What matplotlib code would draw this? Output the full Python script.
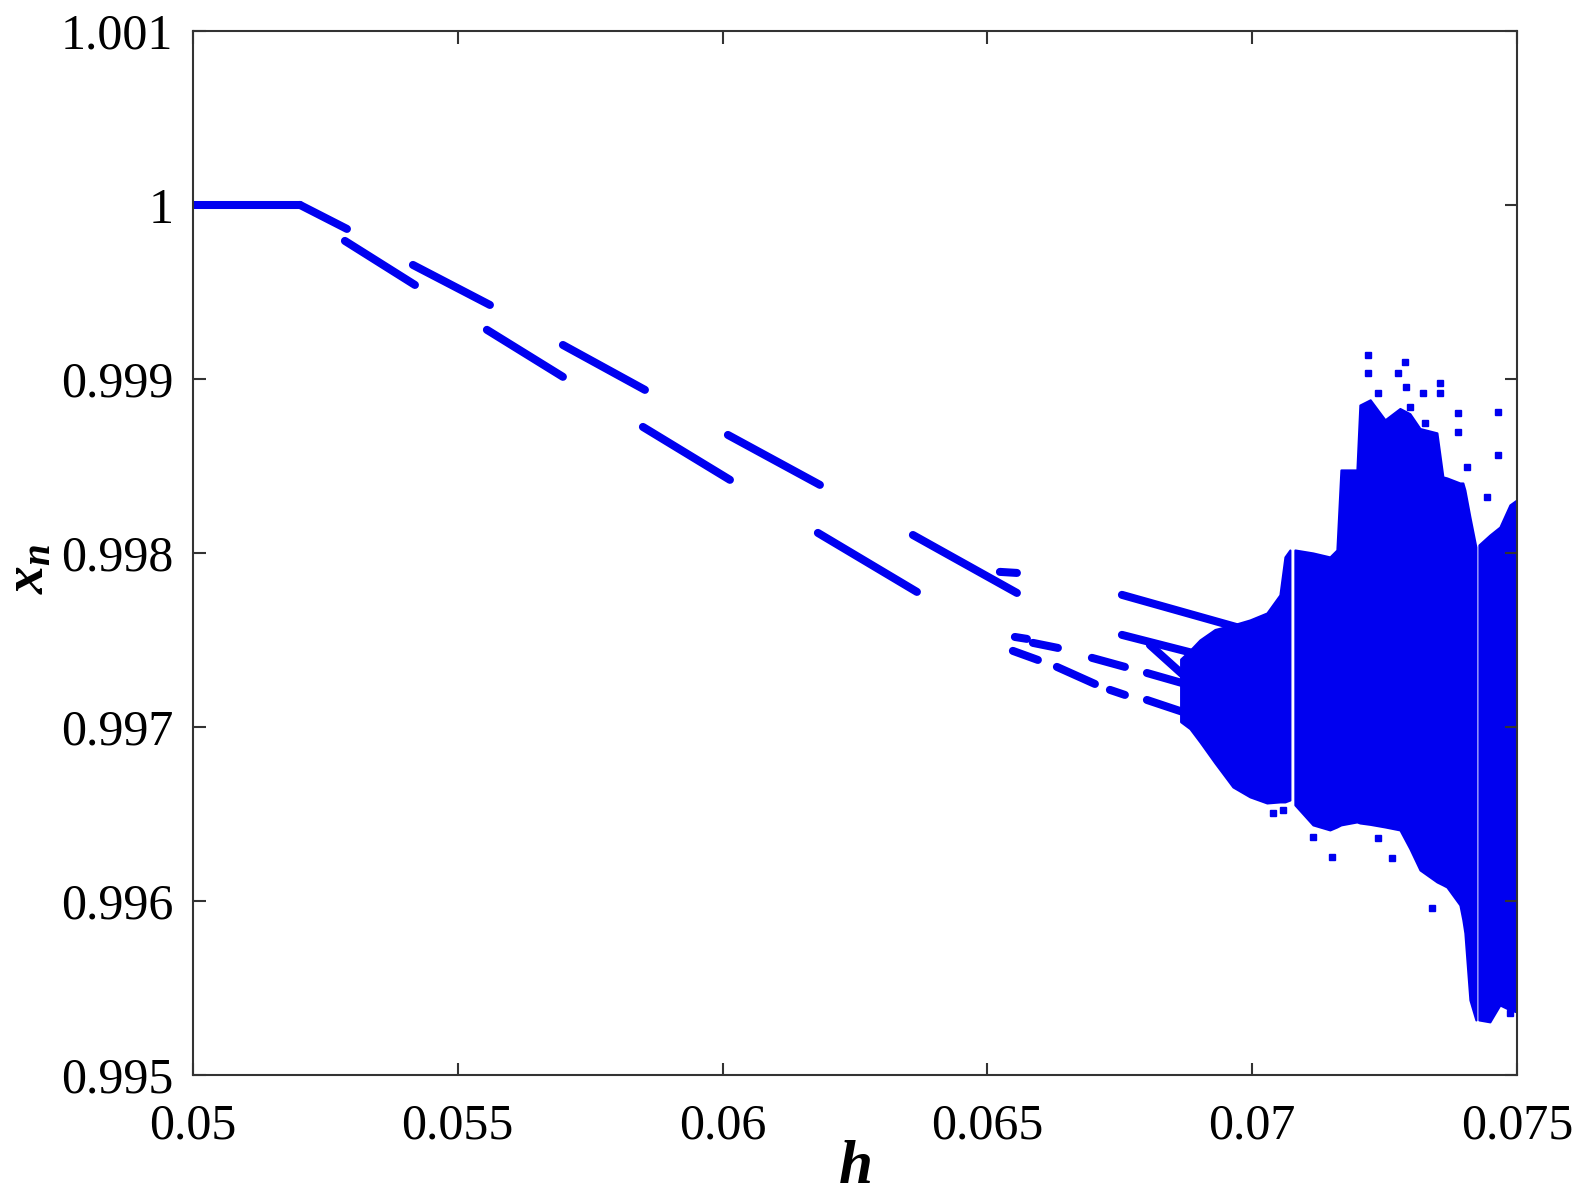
import matplotlib.pyplot as plt
import numpy as np

plt.rcParams['font.family'] = ['Liberation Serif', 'DejaVu Serif']
plt.rcParams['mathtext.fontset'] = 'custom'
plt.rcParams['mathtext.rm'] = 'Liberation Serif'
plt.rcParams['mathtext.it'] = 'Liberation Serif:italic:bold'

# period-1 / period-2 pieces before the cascade: start h, end h, start x, end x
seg_h0 = [0.05, 0.052020, 0.052870, 0.054154, 0.055551, 0.056986, 0.058497, 0.060102, 0.061801, 0.063595, 0.065238]
seg_h1 = [0.052020, 0.052908, 0.054192, 0.055608, 0.056986, 0.058535, 0.060140, 0.061839, 0.063671, 0.065559, 0.065559]
seg_x0 = [1.0, 1.0, 0.999793, 0.999655, 0.999282, 0.999195, 0.998724, 0.998678, 0.998115, 0.998103, 0.997891]
seg_x1 = [1.0, 0.999862, 0.999540, 0.999425, 0.999012, 0.998937, 0.998420, 0.998391, 0.997776, 0.997770, 0.997885]

# short period-4/8 dashes and the branches running into chaos
dash_h0 = [0.065521, 0.065861, 0.065483, 0.066314, 0.066975, 0.067315,
           0.067542, 0.067542, 0.068070, 0.068014, 0.068014]
dash_h1 = [0.065748, 0.066333, 0.065955, 0.067032, 0.067598, 0.067598,
           0.069750, 0.069200, 0.068950, 0.069050, 0.068950]
dash_x0 = [0.997517, 0.997483, 0.997437, 0.997345, 0.997397, 0.997213,
           0.997759, 0.997529, 0.997471, 0.997310, 0.997155]
dash_x1 = [0.997506, 0.997454, 0.997385, 0.997247, 0.997345, 0.997184,
           0.997570, 0.997400, 0.997230, 0.997220, 0.997060]

# chaotic bands: h, upper edge, lower edge
band1_h = [0.068650, 0.068826, 0.069014, 0.069298, 0.069637, 0.069959, 0.070279, 0.070525, 0.070620, 0.070714]
band1_hi = [0.997390, 0.997440, 0.997500, 0.997560, 0.997586, 0.997615, 0.997655, 0.997759, 0.997977, 0.998017]
band1_lo = [0.997030, 0.996990, 0.996914, 0.996793, 0.996655, 0.996598, 0.996563, 0.996569, 0.996569, 0.996580]

band2_h = [0.070808, 0.071148, 0.071469, 0.071601, 0.071677, 0.071979, 0.072035, 0.072230, 0.072510, 0.072791,
           0.072980, 0.073170, 0.073490, 0.073603, 0.073678, 0.073924, 0.073980, 0.074018, 0.074113, 0.074226]
band2_hi = [0.998017, 0.998000, 0.997977, 0.998017, 0.998477, 0.998477, 0.998850, 0.998880, 0.998765, 0.998830,
            0.998800, 0.998715, 0.998690, 0.998437, 0.998431, 0.998402, 0.998402, 0.998362, 0.998207, 0.998034]
band2_lo = [0.996552, 0.996437, 0.996408, 0.996425, 0.996437, 0.996454, 0.996448, 0.996440, 0.996425, 0.996408,
            0.996300, 0.996178, 0.996109, 0.996092, 0.996080, 0.995977, 0.995891, 0.995816, 0.995431, 0.995316]

band3_h = [0.074283, 0.074490, 0.074679, 0.074868, 0.075]
band3_hi = [0.998046, 0.998103, 0.998149, 0.998276, 0.998305]
band3_lo = [0.995316, 0.995305, 0.995402, 0.995374, 0.995362]

# scattered outlying iterates
out_h = [0.072187, 0.072885, 0.072187, 0.072753, 0.073546, 0.073225, 0.073886, 0.074641, 0.074641,
         0.074056, 0.074434, 0.073886, 0.072375, 0.072904, 0.073546, 0.072980, 0.073263,
         0.071148, 0.070582, 0.070393, 0.071507, 0.072640, 0.073395, 0.074868, 0.072375]
out_x = [0.999138, 0.999098, 0.999034, 0.999034, 0.998977, 0.998920, 0.998805, 0.998810, 0.998563,
         0.998494, 0.998322, 0.998695, 0.998920, 0.998954, 0.998920, 0.998839, 0.998747,
         0.996368, 0.996523, 0.996506, 0.996253, 0.996247, 0.995960, 0.995356, 0.996362]

xticks = [0.05, 0.055, 0.06, 0.065, 0.07, 0.075]
xtick_labels = ['0.05', '0.055', '0.06', '0.065', '0.07', '0.075']
yticks = [0.995, 0.996, 0.997, 0.998, 0.999, 1.0, 1.001]
ytick_labels = ['0.995', '0.996', '0.997', '0.998', '0.999', '1', '1.001']

col = '#0000f0'

fig = plt.figure(figsize=(15.75, 12.02), dpi=100)
ax = fig.add_axes([0.1225, 0.1057, 0.8406, 0.8686])

for i in range(len(seg_h0)):
    ax.plot([seg_h0[i], seg_h1[i]], [seg_x0[i], seg_x1[i]], color=col, lw=5.8, solid_capstyle='round')
for i in range(len(dash_h0)):
    ax.plot([dash_h0[i], dash_h1[i]], [dash_x0[i], dash_x1[i]], color=col, lw=5.8, solid_capstyle='round')

ax.fill_between(band1_h, band1_lo, band1_hi, color=col, lw=1.5)
ax.fill_between(band2_h, band2_lo, band2_hi, color=col, lw=1.5)
ax.fill_between(band3_h, band3_lo, band3_hi, color=col, lw=1.5)
ax.plot(out_h, out_x, 's', color=col, ms=4.5, ls='none')

ax.set_xlim(0.05, 0.075)
ax.set_ylim(0.995, 1.001)
ax.set_xticks(xticks)
ax.set_xticklabels(xtick_labels)
ax.set_yticks(yticks)
ax.set_yticklabels(ytick_labels)

ax.tick_params(direction='in', length=9, width=1.5, labelsize=36, top=True, right=True, color='#333333')
ax.tick_params(axis='x', pad=20)
ax.tick_params(axis='y', pad=14)
for s in ax.spines.values():
    s.set_linewidth(1.5)
    s.set_color('#333333')

ax.set_xlabel('$h$', fontsize=44, labelpad=-6)
ax.set_ylabel('$x_n$', fontsize=40)
ax.yaxis.set_label_coords(-0.104, 0.485)

fig.savefig('out.png')
